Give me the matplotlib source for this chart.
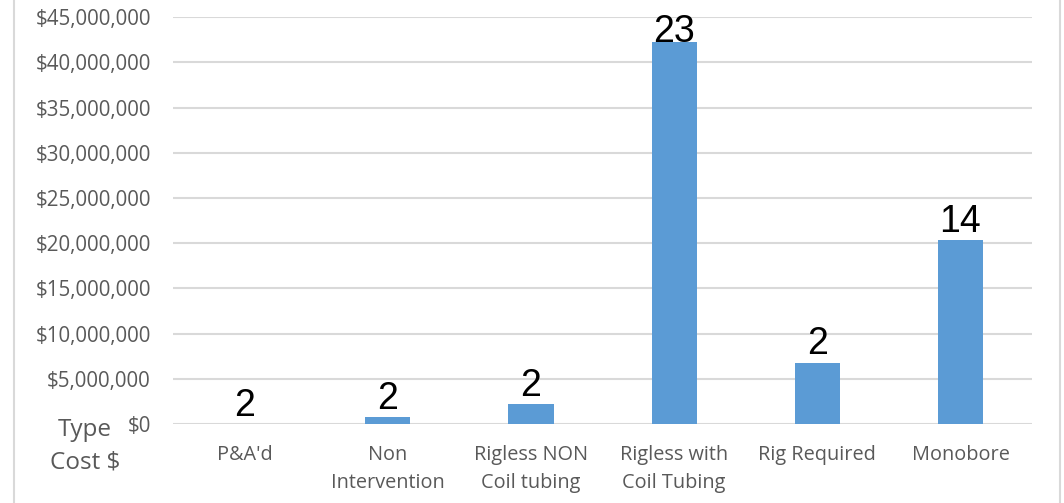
import matplotlib

matplotlib.use("Agg")
import matplotlib.pyplot as plt
from matplotlib.lines import Line2D
from matplotlib.ticker import FuncFormatter

# values
categories = ["P&A'd", "Non\nIntervention", "Rigless NON\nCoil tubing",
              "Rigless with\nCoil Tubing", "Rig Required", "Monobore"]
cost = [0, 800_000, 2_200_000, 42_200_000, 6_800_000, 20_350_000]
well_count = [2, 2, 2, 23, 2, 14]

plt.rcParams["font.family"] = ["Open Sans", "DejaVu Sans"]

fig = plt.figure(figsize=(10.64, 5.03), dpi=100)
ax = fig.add_axes([0.1626, 0.157, 0.8074, 0.809])

x = range(len(categories))
bars = ax.bar(x, cost, width=0.315, color="#5B9BD5", zorder=3)

ax.set_xlim(-0.5, len(categories) - 0.5)
ax.set_ylim(0, 45_000_000)
ax.set_yticks(range(0, 45_000_001, 5_000_000))
ax.yaxis.set_major_formatter(FuncFormatter(lambda v, _: f"${v:,.0f}"))
ax.set_xticks(list(x))
ax.set_xticklabels(categories, linespacing=1.55)

ax.grid(axis="y", color="#D9D9D9", linewidth=1.5, zorder=0)
for s in ax.spines.values():
    s.set_visible(False)
ax.tick_params(axis="y", length=0, pad=16, labelsize=14.8, labelcolor="#595959")
ax.tick_params(axis="x", length=0, pad=15, labelsize=14.3, labelcolor="#595959")

# count labels sit just above each bar, kept inside the plot at the top
y_top = ax.get_ylim()[1]
for b, n in zip(bars, well_count):
    h = min(b.get_height() + 0.9e6, y_top * 0.94)
    ax.text(b.get_x() + b.get_width() / 2, h, str(n), ha="center", va="baseline",
            fontsize=27, color="black", family=["Liberation Sans", "DejaVu Sans"])

fig.text(85 / 1064, 1 - 446 / 503, "Type\nCost $", ha="center", va="center",
         fontsize=17.5, color="#595959", linespacing=1.5)

# chart border lines at left and right
for xp in (14 / 1064, 1060 / 1064):
    fig.add_artist(Line2D([xp, xp], [0, 1], color="#D9D9D9", linewidth=1.5))

fig.savefig("out.png", dpi=100)
